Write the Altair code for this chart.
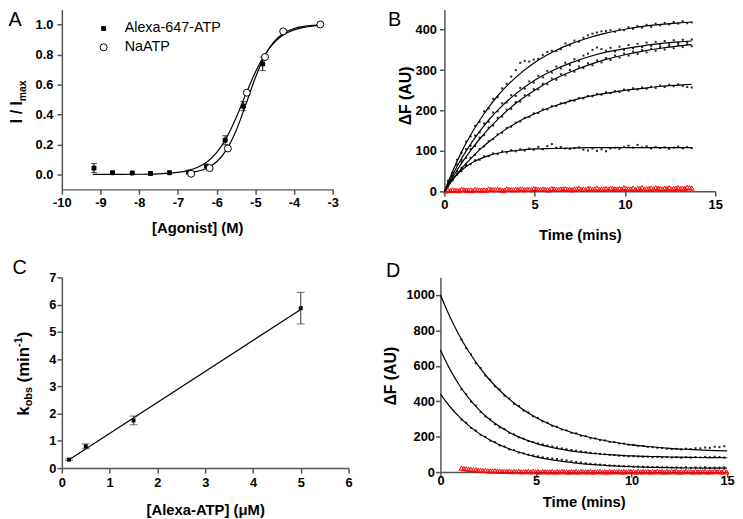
import altair as alt
import pandas as pd

FONT = "Liberation Sans"

# ---------------- Panel A : concentration-response ----------------
A_SERIES = ["Alexa-647-ATP", "NaATP"]
ALEXA_X = [-9.17, -8.69, -8.18, -7.71, -7.22, -6.73, -6.26, -5.78, -5.31, -4.81, -3.32]
ALEXA_Y = [0.042, 0.011, 0.009, 0.006, 0.011, 0.015, 0.055, 0.228, 0.455, 0.737, 1.0]
ALEXA_ERR = [0.03, 0.004, 0.004, 0.004, 0.004, 0.005, 0.012, 0.03, 0.03, 0.045, 0.004]
NA_X = [-6.66, -6.18, -5.71, -5.22, -4.75, -4.28, -3.32]
NA_Y = [0.004, 0.042, 0.173, 0.545, 0.783, 0.954, 1.0]
FIT_ALEXA_X = [-9.2, -8.5, -8.0, -7.5, -7.0, -6.75, -6.5, -6.25, -6.0, -5.75, -5.5, -5.25,
               -5.0, -4.75, -4.5, -4.25, -4.0, -3.75, -3.5, -3.3]
FIT_ALEXA_Y = [0.0, 0.0003, 0.001, 0.004, 0.013, 0.025, 0.046, 0.083, 0.145, 0.242, 0.376, 0.532,
               0.681, 0.801, 0.883, 0.935, 0.964, 0.981, 0.990, 0.994]
FIT_NA_X = [-6.66, -6.5, -6.25, -6.0, -5.75, -5.5, -5.25, -5.0, -4.75, -4.5, -4.25, -4.0,
            -3.75, -3.5, -3.3]
FIT_NA_Y = [0.012, 0.020, 0.041, 0.084, 0.162, 0.289, 0.463, 0.645, 0.794, 0.890, 0.945, 0.973,
            0.987, 0.994, 0.997]
A_X_TICKS = [-10, -9, -8, -7, -6, -5, -4, -3]
A_Y_TICKS = [0.0, 0.2, 0.4, 0.6, 0.8, 1.0]

# ---------------- Panel B : association time courses ----------------
T_B = [0.2, 0.45, 0.7, 0.95, 1.2, 1.45, 1.7, 1.95, 2.2, 2.45,
       2.7, 2.95, 3.2, 3.45, 3.7, 3.95, 4.2, 4.45, 4.7, 4.95,
       5.2, 5.45, 5.7, 5.95, 6.2, 6.45, 6.7, 6.95, 7.2, 7.45,
       7.7, 7.95, 8.2, 8.45, 8.7, 8.95, 9.2, 9.45, 9.7, 9.95,
       10.2, 10.45, 10.7, 10.95, 11.2, 11.45, 11.7, 11.95, 12.2, 12.45,
       12.7, 12.95, 13.2, 13.45, 13.7]
T_B_RED2 = [0.075, 0.325, 0.575, 0.825, 1.075, 1.325, 1.575, 1.825, 2.075, 2.325,
            2.575, 2.825, 3.075, 3.325, 3.575, 3.825, 4.075, 4.325, 4.575, 4.825,
            5.075, 5.325, 5.575, 5.825, 6.075, 6.325, 6.575, 6.825, 7.075, 7.325,
            7.575, 7.825, 8.075, 8.325, 8.575, 8.825, 9.075, 9.325, 9.575, 9.825,
            10.075, 10.325, 10.575, 10.825, 11.075, 11.325, 11.575, 11.825, 12.075, 12.325,
            12.575, 12.825, 13.075, 13.325, 13.575]
B_DOTS_1 = [26, 47, 78, 95, 123, 136, 162, 172, 198, 205,
            229, 233, 255, 266, 284, 300, 318, 323, 321, 326,
            328, 337, 345, 348, 347, 352, 366, 361, 373, 370,
            380, 386, 390, 393, 396, 397, 399, 395, 401, 399,
            406, 402, 409, 405, 412, 407, 415, 411, 417, 413,
            419, 415, 421, 416, 418]
B_DOTS_2 = [22, 38, 66, 78, 104, 113, 138, 146, 168, 172,
            195, 198, 218, 220, 238, 236, 256, 254, 272, 269,
            286, 282, 298, 294, 309, 304, 318, 313, 327, 322,
            336, 341, 350, 356, 352, 348, 355, 346, 358, 350,
            362, 354, 365, 357, 368, 360, 370, 363, 372, 365,
            374, 367, 375, 369, 376]
B_DOTS_3 = [14, 38, 50, 73, 83, 105, 112, 133, 139, 158,
            163, 182, 185, 202, 204, 221, 222, 238, 237, 253,
            252, 266, 265, 279, 276, 290, 287, 300, 296, 309,
            305, 317, 312, 324, 319, 330, 325, 336, 331, 341,
            336, 346, 340, 350, 344, 353, 348, 357, 351, 360,
            354, 362, 357, 364, 359]
B_DOTS_4 = [12, 30, 41, 58, 67, 83, 90, 105, 111, 124,
            129, 141, 145, 157, 160, 170, 173, 182, 184, 193,
            194, 203, 203, 211, 211, 218, 218, 225, 224, 231,
            230, 236, 235, 241, 239, 245, 243, 248, 246, 252,
            249, 255, 252, 257, 254, 259, 256, 262, 258, 264,
            260, 265, 261, 258, 257]
B_DOTS_5 = [15, 27, 44, 50, 63, 67, 77, 78, 87, 87,
            94, 92, 99, 96, 102, 99, 104, 101, 106, 103,
            110, 104, 112, 117, 108, 110, 106, 105, 107, 109,
            103, 101, 106, 100, 104, 99, 106, 108, 105, 110,
            113, 108, 115, 109, 112, 106, 110, 107, 109, 105,
            108, 111, 106, 110, 107]
B_RED_1 = [3, 4, 2, 5, 3, 4, 5, 3, 4, 6,
           4, 5, 3, 6, 4, 5, 6, 4, 5, 7,
           5, 6, 4, 7, 5, 6, 7, 5, 6, 8,
           6, 7, 5, 8, 6, 7, 8, 6, 7, 9,
           6, 8, 7, 9, 7, 8, 9, 7, 8, 9,
           7, 9, 8, 10, 8]
B_RED_2 = [1, 2, 3, 2, 4, 3, 2, 4, 3, 3,
           5, 4, 4, 3, 5, 4, 4, 6, 5, 4,
           6, 5, 5, 4, 6, 5, 6, 5, 4, 6,
           5, 5, 7, 6, 5, 6, 5, 7, 6, 6,
           7, 6, 5, 7, 6, 7, 6, 8, 6, 7,
           6, 8, 7, 7, 9]
T_BL = [0, 0.5, 1, 1.5, 2, 2.5, 3, 4, 5, 6, 7, 8, 9, 10, 11, 12, 13, 13.7]
B_FIT_1 = [0, 54, 102, 143, 179, 211, 239, 284, 319, 345, 365, 380, 392, 401, 408, 413, 417, 419]
B_FIT_2 = [0, 45, 85, 120, 151, 179, 203, 243, 275, 299, 318, 333, 345, 353, 360, 366, 370, 372]
B_FIT_3 = [0, 38, 73, 104, 132, 157, 180, 219, 250, 276, 296, 313, 327, 338, 347, 354, 360, 363]
B_FIT_4 = [0, 31, 59, 83, 105, 124, 141, 170, 192, 210, 224, 235, 243, 250, 255, 260, 263, 265]
B_FIT_5 = [0, 32, 54, 70, 81, 89, 95, 101, 105, 106, 107, 108, 108, 108, 108, 108, 108, 108]
B_X_TICKS = [0, 5, 10, 15]
B_Y_TICKS = [0, 100, 200, 300, 400]

# ---------------- Panel C : kobs vs concentration ----------------
C_X = [0.15, 0.5, 1.5, 5.0]
C_Y = [0.31, 0.80, 1.75, 5.87]
C_ERR = [0.03, 0.09, 0.16, 0.58]
C_LINE_X = [0.15, 5.0]
C_LINE_Y = [0.31, 5.82]
C_X_TICKS = [0, 1, 2, 3, 4, 5, 6]
C_Y_TICKS = [0, 1, 2, 3, 4, 5, 6, 7]

# ---------------- Panel D : dissociation time courses ----------------
T_D = [1.1, 1.35, 1.6, 1.85, 2.1, 2.35, 2.6, 2.85, 3.1, 3.35,
       3.6, 3.85, 4.1, 4.35, 4.6, 4.85, 5.1, 5.35, 5.6, 5.85,
       6.1, 6.35, 6.6, 6.85, 7.1, 7.35, 7.6, 7.85, 8.1, 8.35,
       8.6, 8.85, 9.1, 9.35, 9.6, 9.85, 10.1, 10.35, 10.6, 10.85,
       11.1, 11.35, 11.6, 11.85, 12.1, 12.35, 12.6, 12.85, 13.1, 13.35,
       13.6, 13.85, 14.1, 14.35, 14.6, 14.85]
T_D_RED2 = [1.225, 1.475, 1.725, 1.975, 2.225, 2.475, 2.725, 2.975, 3.225, 3.475,
            3.725, 3.975, 4.225, 4.475, 4.725, 4.975, 5.225, 5.475, 5.725, 5.975,
            6.225, 6.475, 6.725, 6.975, 7.225, 7.475, 7.725, 7.975, 8.225, 8.475,
            8.725, 8.975, 9.225, 9.475, 9.725, 9.975, 10.225, 10.475, 10.725, 10.975,
            11.225, 11.475, 11.725, 11.975, 12.225, 12.475, 12.725, 12.975, 13.225, 13.475,
            13.725, 13.975, 14.225, 14.475, 14.725, 14.975]
D_DOTS_1 = [748, 700, 665, 615, 588, 545, 522, 484, 466, 432,
            416, 386, 373, 347, 337, 314, 306, 286, 279, 261,
            256, 240, 236, 221, 219, 205, 203, 191, 190, 180,
            179, 170, 170, 162, 161, 154, 154, 148, 148, 142,
            141, 137, 136, 132, 130, 131, 128, 132, 130, 135,
            134, 139, 137, 143, 141, 146]
D_DOTS_2 = [468, 440, 398, 376, 339, 314, 298, 270, 252, 243,
            221, 213, 196, 189, 175, 170, 162, 157, 150, 145,
            139, 134, 129, 125, 121, 117, 113, 109, 106, 103,
            101, 97, 96, 92, 93, 89, 90, 88, 86, 87,
            84, 86, 83, 85, 82, 84, 81, 84, 82, 85,
            83, 86, 84, 87, 85, 82]
D_DOTS_3 = [296, 279, 249, 235, 210, 199, 177, 169, 150, 145,
            128, 124, 110, 106, 98, 94, 89, 84, 80, 77,
            74, 70, 66, 61, 57, 54, 50, 47, 44, 42,
            40, 38, 36, 35, 33, 33, 31, 31, 30, 29,
            28, 29, 27, 28, 26, 27, 25, 27, 24, 26,
            25, 27, 24, 26, 25, 27]
D_RED_1 = [22, 18, 15, 13, 10, 9, 7, 8, 6, 5,
           6, 4, 5, 3, 4, 5, 3, 4, 2, 4,
           3, 5, 2, 4, 3, 4, 2, 5, 3, 4,
           2, 5, 3, 4, 2, 4, 3, 5, 2, 4,
           3, 5, 2, 4, 3, 5, 2, 4, 3, 5,
           2, 4, 3, 6, 4, 8]
D_RED_2 = [20, 16, 13, 11, 9, 7, 6, 5, 4, 3,
           2, 3, 1, 2, 1, 2, 0, 2, 1, 0,
           1, 2, 0, 1, 0, 2, 1, 0, 2, 1,
           0, 1, 2, 0, 1, 2, 0, 1, 2, 0,
           1, 2, 0, 1, 2, 0, 1, 2, 0, 1,
           2, 0, 1, 2, 0, 1]
T_DL = [0, 0.5, 1, 1.5, 2, 2.5, 3, 4, 5, 6, 7, 8, 9, 10, 11, 12, 13, 14, 15]
D_FIT_1 = [1000, 876, 769, 678, 599, 530, 472, 378, 308, 257, 219, 191, 170, 154, 143, 134, 128, 123, 120]
D_FIT_2 = [690, 580, 489, 415, 354, 304, 264, 203, 162, 135, 117, 105, 97, 91, 88, 85, 83, 82, 81]
D_FIT_3 = [440, 369, 310, 261, 220, 187, 159, 116, 86, 66, 52, 42, 35, 30, 27, 25, 23, 22, 22]
D_X_TICKS = [0, 5, 10, 15]
D_Y_TICKS = [0, 200, 400, 600, 800, 1000]


# ---------------- helpers ----------------
def lin(domain):
    return alt.Scale(domain=domain, nice=False, zero=False)


def long_df(pairs):
    rows = []
    for k, (t, ys) in enumerate(pairs):
        assert len(ys) == len(t), (k, len(ys), len(t))
        for a, b in zip(t, ys):
            rows.append({"t": a, "v": b, "c": k})
    return pd.DataFrame(rows)


ONE = pd.DataFrame({"k": [0]})


def txt(s, x, y, size, weight="normal", angle=0, align="left"):
    return alt.Chart(ONE).mark_text(
        text=s, font=FONT, fontSize=size, fontWeight=weight, angle=angle,
        align=align, baseline="alphabetic", color="black"
    ).encode(x=alt.value(x), y=alt.value(y))


def anchor(x, y):
    # tiny white layout spacer (keeps the panel extents predictable)
    return alt.Chart(ONE).mark_rule(color="white", strokeWidth=1).encode(
        x=alt.value(x), x2=alt.value(x), y=alt.value(y), y2=alt.value(y + 1))


NEG = "'' + datum.value"

# ---------------- build Panel A ----------------
WA, HA = 274, 182
xA_axis = alt.Axis(values=A_X_TICKS, labelExpr=NEG, title="[Agonist] (M)", labelPadding=2, titlePadding=12)
yA_axis = alt.Axis(values=A_Y_TICKS, format=".1f", title=None, labelPadding=4)
sA = lin([-10, -3])
sAy = lin([-0.1, 1.1])

a_fit = pd.DataFrame({
    "x": FIT_ALEXA_X + FIT_NA_X,
    "y": FIT_ALEXA_Y + FIT_NA_Y,
    "s": [A_SERIES[0]] * len(FIT_ALEXA_X) + [A_SERIES[1]] * len(FIT_NA_X),
})
a_pts = pd.DataFrame({
    "x": ALEXA_X + NA_X,
    "y": ALEXA_Y + NA_Y,
    "s": [A_SERIES[0]] * len(ALEXA_X) + [A_SERIES[1]] * len(NA_X),
})
a_err = pd.DataFrame({
    "x": [x for x, e in zip(ALEXA_X, ALEXA_ERR) if e >= 0.02],
    "lo": [y - e for y, e in zip(ALEXA_Y, ALEXA_ERR) if e >= 0.02],
    "hi": [y + e for y, e in zip(ALEXA_Y, ALEXA_ERR) if e >= 0.02],
})
a_caps = pd.DataFrame({
    "x": list(a_err["x"]) * 2,
    "y": list(a_err["lo"]) + list(a_err["hi"]),
})

legA = alt.Legend(title=None, orient="none", legendX=35, legendY=12, labelFont=FONT,
                  labelFontSize=14.5, labelFontWeight="normal", labelColor="black",
                  labelOffset=14, rowPadding=4, symbolStrokeWidth=1)

a_lines = alt.Chart(a_fit).mark_line(color="black", strokeWidth=1.2, interpolate="monotone").encode(
    x=alt.X("x:Q", scale=sA, axis=xA_axis), y=alt.Y("y:Q", scale=sAy, axis=yA_axis), detail="s:N")
a_rules = alt.Chart(a_err).mark_rule(color="black", strokeWidth=1).encode(
    x=alt.X("x:Q", scale=sA, axis=xA_axis), y=alt.Y("lo:Q", scale=sAy, axis=yA_axis), y2="hi:Q")
a_capm = alt.Chart(a_caps).mark_tick(orient="horizontal", size=6, thickness=1, color="black").encode(
    x=alt.X("x:Q", scale=sA, axis=xA_axis), y=alt.Y("y:Q", scale=sAy, axis=yA_axis))
a_points = alt.Chart(a_pts).mark_point(strokeWidth=1, opacity=1).encode(
    x=alt.X("x:Q", scale=sA, axis=xA_axis),
    y=alt.Y("y:Q", scale=sAy, axis=yA_axis),
    shape=alt.Shape("s:N", scale=alt.Scale(domain=A_SERIES, range=["square", "circle"]), legend=legA),
    fill=alt.Fill("s:N", scale=alt.Scale(domain=A_SERIES, range=["black", "white"]), legend=legA),
    stroke=alt.Stroke("s:N", scale=alt.Scale(domain=A_SERIES, range=["black", "black"]), legend=legA),
    size=alt.Size("s:N", scale=alt.Scale(domain=A_SERIES, range=[16, 50]), legend=legA),
)
panelA = alt.layer(
    a_lines, a_rules, a_capm, a_points,
    txt("A", -54, 17, 20),
    txt("I / I", -40, 115, 16, "bold", 270),
    txt("max", -36, 92.8, 10.5, "bold", 270),
    anchor(-58, 100), anchor(0, -8), anchor(0, 240), anchor(WA + 7, 100),
).properties(width=WA, height=HA)

# ---------------- build Panel B ----------------
WB, HB = 274, 184
sBx = lin([0, 15])
sBy = lin([0, 450])
xB_axis = alt.Axis(values=B_X_TICKS, title="Time (mins)", labelPadding=2, titlePadding=17)
yB_axis = alt.Axis(values=B_Y_TICKS, title=None, labelPadding=3)

b_fit = long_df([(T_BL, B_FIT_1), (T_BL, B_FIT_2), (T_BL, B_FIT_3), (T_BL, B_FIT_4), (T_BL, B_FIT_5)])
b_dots = long_df([(T_B, B_DOTS_1), (T_B, B_DOTS_2), (T_B, B_DOTS_3), (T_B, B_DOTS_4), (T_B, B_DOTS_5)])
b_red = long_df([(T_B, B_RED_1), (T_B_RED2, B_RED_2)])

b_d = alt.Chart(b_dots).mark_point(shape="square", filled=True, size=4, color="#222", opacity=1).encode(
    x=alt.X("t:Q", scale=sBx, axis=xB_axis), y=alt.Y("v:Q", scale=sBy, axis=yB_axis))
b_r = alt.Chart(b_red).mark_point(shape="triangle-up", filled=False, size=24, color="#ff0000",
                                  strokeWidth=1, opacity=1).encode(
    x=alt.X("t:Q", scale=sBx, axis=xB_axis), y=alt.Y("v:Q", scale=sBy, axis=yB_axis))
b_l = alt.Chart(b_fit).mark_line(color="black", strokeWidth=1.2, interpolate="monotone").encode(
    x=alt.X("t:Q", scale=sBx, axis=xB_axis), y=alt.Y("v:Q", scale=sBy, axis=yB_axis), detail="c:N")
panelB = alt.layer(
    b_d, b_r, b_l,
    txt("B", -57, 17, 20),
    txt("ΔF (AU)", -34, 87.5, 16, "bold", 270, "center"),
    anchor(-58, 100),
).properties(width=WB, height=HB)

# ---------------- build Panel C ----------------
WC, HC = 290, 193
sCx = lin([0, 6])
sCy = lin([0, 7])
xC_axis = alt.Axis(values=C_X_TICKS, title="[Alexa-ATP] (μM)", labelPadding=4, titlePadding=13)
yC_axis = alt.Axis(values=C_Y_TICKS, title=None, labelPadding=1)

c_pts = pd.DataFrame({"x": C_X, "y": C_Y})
c_err = pd.DataFrame({"x": C_X, "lo": [y - e for y, e in zip(C_Y, C_ERR)],
                      "hi": [y + e for y, e in zip(C_Y, C_ERR)]})
c_caps = pd.DataFrame({"x": C_X * 2, "y": list(c_err["lo"]) + list(c_err["hi"])})
c_line = pd.DataFrame({"x": C_LINE_X, "y": C_LINE_Y})

c_l = alt.Chart(c_line).mark_line(color="black", strokeWidth=1.2).encode(
    x=alt.X("x:Q", scale=sCx, axis=xC_axis), y=alt.Y("y:Q", scale=sCy, axis=yC_axis))
c_r = alt.Chart(c_err).mark_rule(color="#333", strokeWidth=1).encode(
    x=alt.X("x:Q", scale=sCx, axis=xC_axis), y=alt.Y("lo:Q", scale=sCy, axis=yC_axis), y2="hi:Q")
c_c = alt.Chart(c_caps).mark_tick(orient="horizontal", size=8, thickness=1, color="#333").encode(
    x=alt.X("x:Q", scale=sCx, axis=xC_axis), y=alt.Y("y:Q", scale=sCy, axis=yC_axis))
c_p = alt.Chart(c_pts).mark_point(shape="square", filled=True, size=16, color="black", opacity=1).encode(
    x=alt.X("x:Q", scale=sCx, axis=xC_axis), y=alt.Y("y:Q", scale=sCy, axis=yC_axis))
panelC = alt.layer(
    c_l, c_r, c_c, c_p,
    txt("C", -50, -3, 20),
    txt("k", -33, 140, 17, "bold", 270),
    txt("obs", -30, 130.5, 11, "bold", 270),
    txt("(min", -33, 106.3, 17, "bold", 270),
    txt("-1", -40, 70.4, 11, "bold", 270),
    txt(")", -33, 60.6, 17, "bold", 270),
    anchor(-54, 100), anchor(0, -24), anchor(WC + 6, 100),
).properties(width=WC, height=HC)

# ---------------- build Panel D ----------------
WD, HD = 290, 197
sDx = lin([0, 15])
sDy = lin([0, 1100])
xD_axis = alt.Axis(values=D_X_TICKS, title="Time (mins)", labelPadding=-2, titlePadding=7)
yD_axis = alt.Axis(values=D_Y_TICKS, format="d", title=None, labelPadding=1)

d_fit = long_df([(T_DL, D_FIT_1), (T_DL, D_FIT_2), (T_DL, D_FIT_3)])
d_dots = long_df([(T_D, D_DOTS_1), (T_D, D_DOTS_2), (T_D, D_DOTS_3)])
d_red = long_df([(T_D, D_RED_1), (T_D_RED2, D_RED_2)])

d_d = alt.Chart(d_dots).mark_point(shape="square", filled=True, size=4, color="#222", opacity=1).encode(
    x=alt.X("t:Q", scale=sDx, axis=xD_axis), y=alt.Y("v:Q", scale=sDy, axis=yD_axis))
d_r = alt.Chart(d_red).mark_point(shape="triangle-up", filled=False, size=24, color="#ff0000",
                                  strokeWidth=1, opacity=1).encode(
    x=alt.X("t:Q", scale=sDx, axis=xD_axis), y=alt.Y("v:Q", scale=sDy, axis=yD_axis))
d_l = alt.Chart(d_fit).mark_line(color="black", strokeWidth=1.2, interpolate="monotone").encode(
    x=alt.X("t:Q", scale=sDx, axis=xD_axis), y=alt.Y("v:Q", scale=sDy, axis=yD_axis), detail="c:N")
panelD = alt.layer(
    d_d, d_r, d_l,
    txt("D", -55, 0, 20),
    txt("ΔF (AU)", -45, 100, 16, "bold", 270, "center"),
    anchor(-62, 100),
).properties(width=WD, height=HD)

# ---------------- assemble ----------------
row1 = alt.hconcat(panelA, panelB, spacing=46)
row2 = alt.hconcat(panelC, panelD, spacing=23)
chart = alt.vconcat(row1, row2, spacing=4).properties(
    padding={"left": -4.5, "top": -10.5, "right": 0, "bottom": 0}
).configure(font=FONT).configure_view(stroke=None).configure_axis(
    domainColor="#555", domainWidth=1.5, tickColor="#555", tickWidth=1.5, tickSize=5,
    labelFont=FONT, labelFontSize=13, labelFontWeight="bold", labelColor="black",
    titleFont=FONT, titleFontSize=15, titleFontWeight="bold", titleColor="black",
    grid=False, labelFlush=False, labelOverlap=False,
)

chart.save("out.html", embed_options={"renderer": "svg", "actions": False})
